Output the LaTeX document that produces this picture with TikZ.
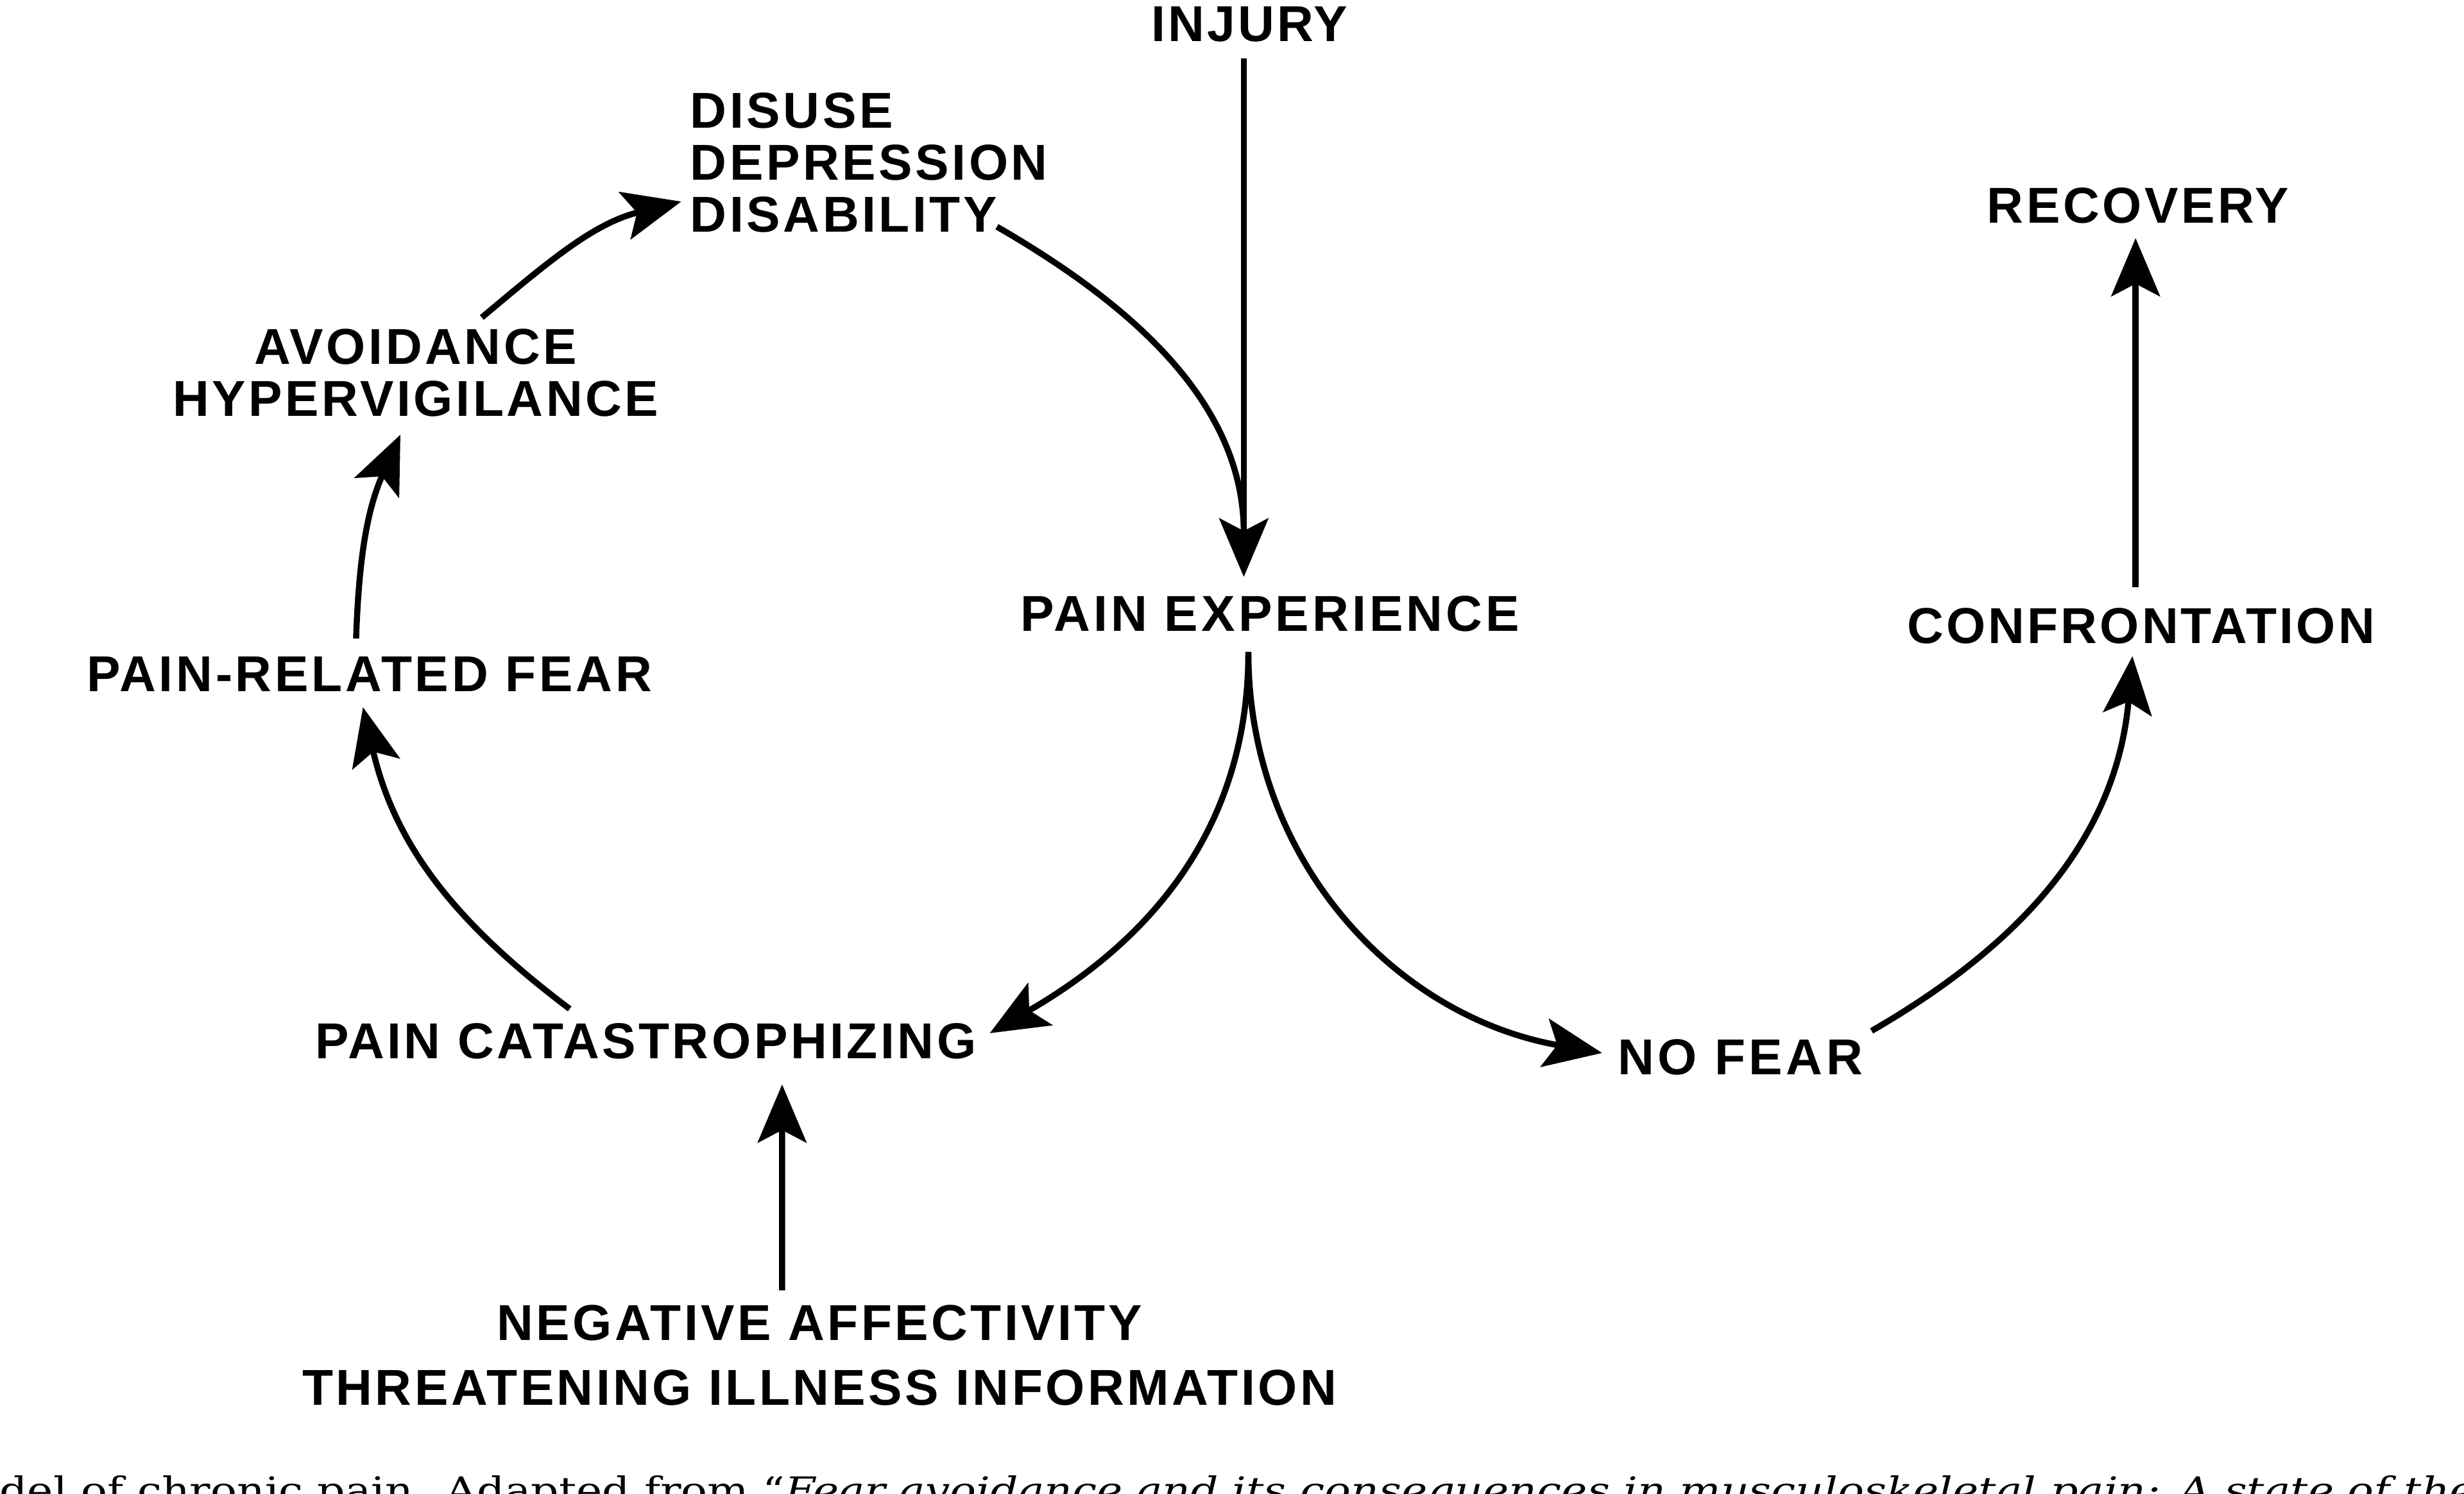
\documentclass[tikz,border=0pt]{standalone}
\usepackage{fontspec}
\usepackage{graphicx}
\setmainfont{Liberation Sans}
\newfontfamily\lblfont{Liberation Sans}[LetterSpace=5.8]
\newfontfamily\capfont{DejaVu Serif}
\usetikzlibrary{arrows.meta,calc}
\tikzset{
  lbl/.style={inner sep=0pt, outer sep=0pt, anchor=base,
    font=\lblfont\bfseries\fontsize{9.14pt}{9.39pt}\selectfont,
    text height=0.2308cm, text depth=0pt},
  mlbl/.style={inner sep=0pt, outer sep=0pt,
    font=\lblfont\bfseries\fontsize{9.14pt}{9.39pt}\selectfont},
  arr/.style={line width=1.1pt, -{Stealth[length=3.7mm, width=3.1mm, inset=0.8mm]}}
}
\newcommand\lsp[1]{\addfontfeatures{LetterSpace=#1}}
\begin{document}
\begin{tikzpicture}
\fill[white] (0,0) rectangle (15.68,-9.502);
\useasboundingbox (0,0) rectangle (15.68,-9.502);

% nodes
\node[lbl] (inj) at (7.952,-0.265) {\lsp{5.2}INJURY};
\node[lbl] (pe) at (8.082,-4.017) {\lsp{6.5}PAIN EXPERIENCE};
\node[lbl] (prf) at (2.350,-4.399) {\lsp{6.0}PAIN-RELATED FEAR};
\node[lbl] (pc) at (4.109,-6.735) {PAIN CATASTROPHIZING};
\node[lbl] (rec) at (13.606,-1.420) {RECOVERY};
\node[lbl] (conf) at (13.624,-4.095) {\lsp{5.3}CONFRONTATION};
\node[lbl] (nf) at (11.075,-6.838) {\lsp{7}NO FEAR};
\node[mlbl, align=left, anchor=north west] (dis) at (4.393,-0.592) {DISUSE\\DEPRESSION\\DISABILITY};
\node[mlbl, align=center, anchor=north] (av) at (2.645,-2.094) {AVOIDANCE\\HYPERVIGILANCE};
\node[mlbl, align=center, anchor=north,
  font=\lblfont\bfseries\fontsize{9.14pt}{11.67pt}\selectfont\lsp{5.65}] (neg) at (5.215,-8.305)
  {NEGATIVE AFFECTIVITY\\THREATENING ILLNESS INFORMATION};

% caption fragment, cut by the lower edge
\node[anchor=base west, inner sep=0pt, font=\capfont\fontsize{6.6pt}{7pt}\selectfont] (cap) at (-0.01,-9.566)
  {\scalebox{1.197}[1]{del of chronic pain. Adapted from “\textit{Fear avoidance and its consequences in musculoskeletal pain: A state of the}}};

% connectors
\draw[arr] ([shift={(-0.037,-0.105)}]inj.south) -- ([shift={(-0.167,0.117)}]pe.north);
\draw[arr] ([shift={(1.951,0.037)}]dis.south west) to[out=-30,in=90] ([shift={(-0.167,0.117)}]pe.north);
\draw[arr] ([shift={(-0.138,-0.131)}]pe.south) to[out=-90,in=30] ([shift={(0.086,0.046)}]pc.east);
\draw[arr] ([shift={(-0.138,-0.131)}]pe.south) to[out=-90,in=170] ([shift={(-0.101,0.023)}]nf.west);
\draw[arr] ([shift={(-0.484,0.085)}]pc.north) to[out=143,in=-77] ([shift={(-0.04,-0.101)}]prf.south);
\draw[arr] ([shift={(-0.084,0.106)}]prf.north) to[out=88,in=-114] ([shift={(-0.097,-0.114)}]av.south);
\draw[arr] ([shift={(0.421,0.074)}]av.north) to[out=40,in=194] ([shift={(-0.058,0.197)}]dis.south west);
\draw[arr] ([shift={(0.056,0.048)}]nf.north east) to[out=30,in=-95] ([shift={(-0.054,-0.08)}]conf.south);
\draw[arr] ([shift={(-0.034,0.13)}]conf.north) -- ([shift={(-0.016,-0.095)}]rec.south);
\draw[arr] ([shift={(-0.238,0.095)}]neg.north) -- ([shift={(0.868,-0.165)}]pc.south);
\end{tikzpicture}
\end{document}
